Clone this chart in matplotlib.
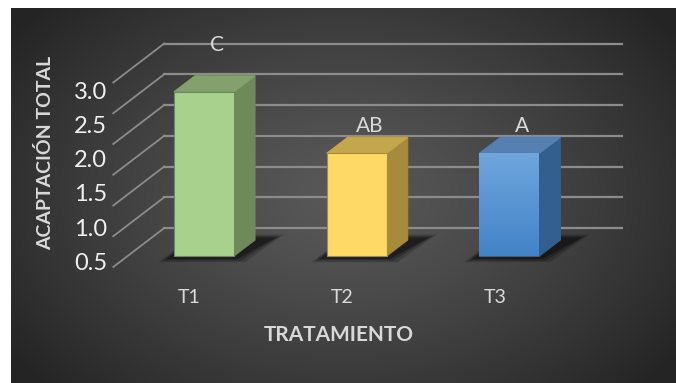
import matplotlib.pyplot as plt
import numpy as np
from matplotlib.patches import Polygon

plt.rcParams['font.family'] = ['Lato', 'DejaVu Sans']

# data
tratamientos = ['T1', 'T2', 'T3']
acaptacion = [3.17, 2.17, 2.17]
letras = ['C', 'AB', 'A']
letra_pad = [0.76, 0.44, 0.44]
ticks = [0.5, 1.0, 1.5, 2.0, 2.5, 3.0, 3.5]
tick_labels = ['0.5', '1.0', '1.5', '2.0', '2.5', '3.0']

front = ['#A9D18E', '#FFD966', '#5B9BD5']
side = ['#6E8A5B', '#A68B3D', '#335F8E']
top = ['#84A06C', '#C4A64C', '#5580AF']

W, H = 676, 383
fig = plt.figure(figsize=(W / 100, H / 100), dpi=100, facecolor='white')

# dark radial background panel
bg = fig.add_axes([11 / W, 0, (W - 11) / W, (H - 8) / H])
bg.axis('off')
gx, gy = np.meshgrid(np.linspace(0, 1, 400), np.linspace(0, 1, 240))
r = np.sqrt(((gx - 0.5) / 0.62) ** 2 + ((gy - 0.5) / 0.75) ** 2)
r = np.clip(r, 0, 1) ** 1.3
c0, c1 = np.array([0x58, 0x58, 0x58]) / 255, np.array([0x24, 0x24, 0x24]) / 255
img = c0 + (c1 - c0) * r[..., None]
bg.imshow(img, extent=[0, 1, 0, 1], aspect='auto', interpolation='bilinear')
bg.set_xlim(0, 1)
bg.set_ylim(0, 1)

# main axes: x in category units, y in value units (front plane of the bars)
px_x, px_y = 152.7, 61.5
xlim = (-204 / px_x, (W - 204) / px_x)
ylim = (0.5 - 127 / px_y, 0.5 + 256 / px_y)
ax = fig.add_axes([0, 0, 1, 1])
ax.patch.set_alpha(0)
ax.axis('off')

base = ticks[0]
bw = 60 / px_x
ddx, ddy = 21 / px_x, 16 / px_y      # bar depth
wdx, wdy = 36.6 / px_x, 28 / px_y    # back wall offset
fdx, fdy = -14.4 / px_x, -11 / px_y  # front edge of floor
x_lo, x_hi = -0.5, len(tratamientos) - 0.5
grid_c = '#8C8C8C'

for v in ticks:
    ax.plot([x_lo + wdx, x_hi + wdx], [v + wdy, v + wdy], color=grid_c, lw=1.6, zorder=1)
    ax.plot([x_lo + fdx, x_lo + wdx], [v + fdy, v + wdy], color=grid_c, lw=1.3, zorder=1)

for k, lab in enumerate(tick_labels):
    v = ticks[k]
    ax.text(-0.635, 0.386 + (v - 0.5) * 1.106, lab, ha='right', va='center',
            fontsize=17, color='#F0F0F0')

for i, v in enumerate(acaptacion):
    xl, xr = i - bw / 2, i + bw / 2
    # soft shadow on the floor
    for s, a in [(0.07, 0.18), (0.045, 0.25), (0.02, 0.35)]:
        sh = [(xl - s - 0.03, base - 0.03 - s), (xr + s, base - 0.03 - s),
              (xr + ddx + 0.12 + s, base + ddy + 0.02 + s), (xl + ddx, base + ddy + 0.02 + s)]
        ax.add_patch(Polygon(sh, closed=True, fc='black', ec='none', alpha=a, zorder=2))
    side_poly = [(xr, base), (xr + ddx, base + ddy), (xr + ddx, v + ddy), (xr, v)]
    top_poly = [(xl, v), (xr, v), (xr + ddx, v + ddy), (xl + ddx, v + ddy)]
    ax.add_patch(Polygon(side_poly, closed=True, fc=side[i], ec=side[i], lw=0.8, zorder=3))
    ax.add_patch(Polygon(top_poly, closed=True, fc=top[i], ec=top[i], lw=0.8, zorder=3))
    rect = Polygon([(xl, base), (xr, base), (xr, v), (xl, v)], closed=True,
                   fc=front[i], ec=side[i], lw=0.8, zorder=4)
    ax.add_patch(rect)
    if i == 2:
        # vertical shading on the blue face
        grad = np.linspace(0, 1, 100)[:, None]
        cb = np.array([0x6F, 0xA6, 0xDD]) / 255
        ct = np.array([0x42, 0x83, 0xC7]) / 255
        gim = cb + (ct - cb) * grad[..., None]
        im = ax.imshow(gim, extent=[xl, xr, base, v], origin='upper', aspect='auto',
                       zorder=4.5, interpolation='bilinear')
        im.set_clip_path(rect)
    ax.text(i + 0.085, v + letra_pad[i], letras[i], ha='center', va='center',
            fontsize=15, color='#D9D9D9', zorder=5)
    ax.text(i + fdx, -0.167, tratamientos[i], ha='center', va='center',
            fontsize=14, color='#D9D9D9')

ax.set_xlim(*xlim)
ax.set_ylim(*ylim)

ax.text(-1.041, 2.175, 'ACAPTACIÓN TOTAL', rotation=90, ha='center', va='center',
        fontsize=14, fontweight='bold', color='#D9D9D9')
ax.text(0.884, -0.785, 'TRATAMIENTO', ha='center', va='center',
        fontsize=15, fontweight='bold', color='#D9D9D9')

fig.savefig('out.png', dpi=100, facecolor='white')
